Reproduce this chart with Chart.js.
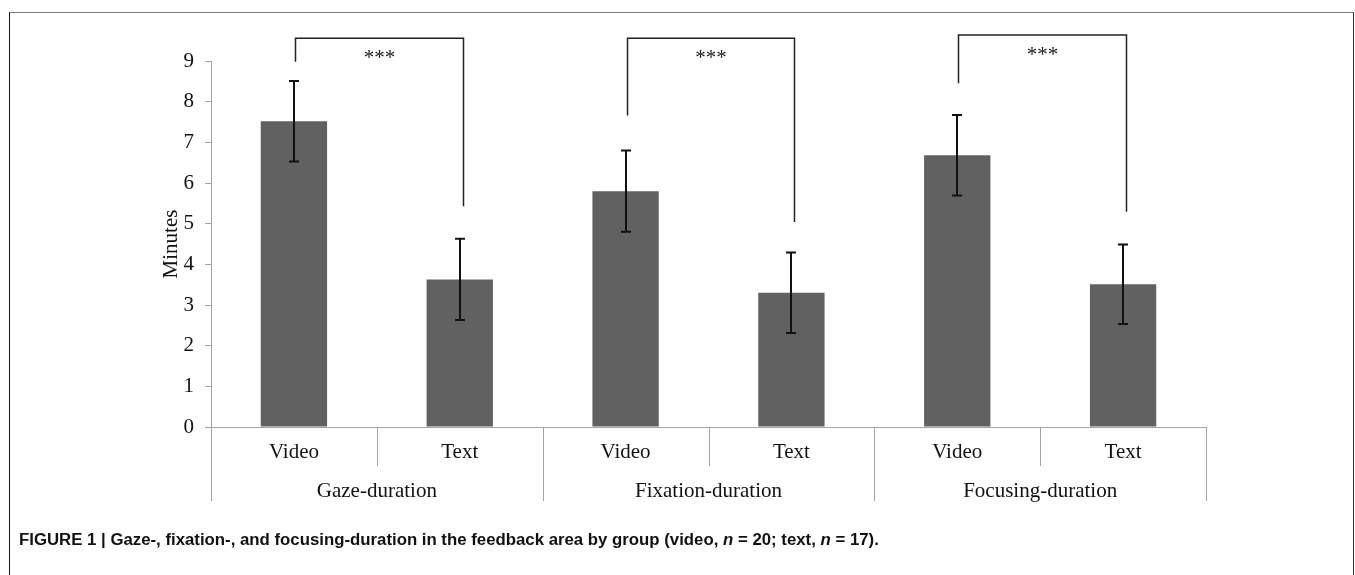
<!DOCTYPE html>
<html><head><meta charset="utf-8">
<script src="https://cdn.jsdelivr.net/npm/chart.js@4/dist/chart.umd.min.js"></script>
<style>
html,body{margin:0;padding:0;background:#fff;}
body{width:1355px;height:575px;position:relative;overflow:hidden;}
#frame{position:absolute;left:9px;top:12px;width:1345px;height:640px;border-top:1px solid #7a7a7a;border-left:1px solid #111;border-right:1px solid #333;box-sizing:border-box;}
#wrap{position:absolute;left:0;top:0;width:1355px;height:575px;}
#caption{position:absolute;left:19px;top:530px;font-family:"Liberation Sans Narrow","Arial Narrow","Liberation Sans",Arial,sans-serif;font-weight:bold;font-size:16.8px;color:#111;white-space:nowrap;}
</style></head>
<body>
<div id="frame"></div>
<div id="wrap"><canvas id="c" width="1355" height="575"></canvas></div>
<div id="caption">FIGURE 1 | Gaze-, fixation-, and focusing-duration in the feedback area by group (video, <i>n</i> = 20; text, <i>n</i> = 17).</div>
<script>
const categories = ['Video', 'Text', 'Video', 'Text', 'Video', 'Text'];
const groups = ['Gaze-duration', 'Fixation-duration', 'Focusing-duration'];
const means = [7.52, 3.63, 5.80, 3.30, 6.68, 3.51];
const errors = [0.99, 1.00, 1.00, 0.99, 0.99, 0.98];
const yTicks = [0, 1, 2, 3, 4, 5, 6, 7, 8, 9];
const bracketTop = [9.56, 9.56, 9.64];
const bracketLeftEnd = [8.98, 7.66, 8.45];
const bracketRightEnd = [5.43, 5.04, 5.29];
const sigLabels = ['***', '***', '***'];

const SERIF = '"Liberation Serif","Times New Roman",Times,serif';
const AXIS_GRAY = '#a3a3a3';

const overlay = {
  id: 'overlay',
  afterDatasetsDraw(chart) {
    const ctx = chart.ctx;
    const xs = chart.scales.x, ys = chart.scales.y;
    const base = ys.getPixelForValue(0);
    ctx.save();
    // error bars
    ctx.strokeStyle = '#111';
    ctx.lineWidth = 2;
    means.forEach((m, i) => {
      const x = Math.round(xs.getPixelForValue(i));
      const yT = ys.getPixelForValue(m + errors[i]);
      const yB = ys.getPixelForValue(m - errors[i]);
      ctx.beginPath();
      ctx.moveTo(x, yT); ctx.lineTo(x, yB);
      ctx.moveTo(x - 5, yT); ctx.lineTo(x + 5, yT);
      ctx.moveTo(x - 5, yB); ctx.lineTo(x + 5, yB);
      ctx.stroke();
    });
    // significance brackets
    ctx.strokeStyle = '#222';
    ctx.lineWidth = 1.5;
    groups.forEach((g, k) => {
      const xl = Math.round(xs.getPixelForValue(2 * k)) + 1.5;
      const xr = Math.round(xs.getPixelForValue(2 * k + 1)) + 3.5;
      const yT = ys.getPixelForValue(bracketTop[k]);
      ctx.beginPath();
      ctx.moveTo(xl, ys.getPixelForValue(bracketLeftEnd[k]));
      ctx.lineTo(xl, yT);
      ctx.lineTo(xr, yT);
      ctx.lineTo(xr, ys.getPixelForValue(bracketRightEnd[k]));
      ctx.stroke();
      ctx.fillStyle = '#222';
      ctx.font = '21px ' + SERIF;
      ctx.textAlign = 'center';
      ctx.textBaseline = 'alphabetic';
      ctx.fillText(sigLabels[k], (xl + xr) / 2, yT + 26);
    });
    // x-axis category separators (short) and group separators (long)
    ctx.strokeStyle = AXIS_GRAY;
    ctx.lineWidth = 1;
    for (let j = 0; j <= categories.length; j++) {
      const x = Math.round(xs.getPixelForValue(j - 0.5)) + 0.5;
      const len = (j % 2 === 0) ? 74 : 39;
      ctx.beginPath();
      ctx.moveTo(x, base);
      ctx.lineTo(x, base + len);
      ctx.stroke();
    }
    ctx.fillStyle = '#111';
    ctx.font = '21px ' + SERIF;
    ctx.textAlign = 'center';
    ctx.textBaseline = 'middle';
    categories.forEach((c, i) => {
      ctx.fillText(c, xs.getPixelForValue(i), base + 25);
    });
    groups.forEach((g, k) => {
      ctx.fillText(g, xs.getPixelForValue(2 * k + 0.5), base + 64);
    });
    ctx.restore();
  }
};

new Chart(document.getElementById('c'), {
  type: 'bar',
  data: {
    labels: categories,
    datasets: [{
      data: means,
      backgroundColor: '#616161',
      borderWidth: 0,
      barPercentage: 0.4,
      categoryPercentage: 1.0
    }]
  },
  options: {
    responsive: false,
    animation: false,
    layout: { padding: { left: 150, right: 149, top: 61, bottom: 108 } },
    plugins: { legend: { display: false }, tooltip: { enabled: false } },
    scales: {
      x: {
        offset: true,
        afterFit: (s) => { s.height = 40; },
        ticks: { display: false },
        grid: { display: false },
        border: { display: true, color: AXIS_GRAY, width: 1 }
      },
      y: {
        min: 0, max: 9,
        afterFit: (s) => { s.width = 61; },
        afterBuildTicks: (s) => { s.ticks = yTicks.map(v => ({ value: v })); },
        ticks: { stepSize: 1, padding: 11, color: '#111', font: { family: SERIF, size: 21 } },
        grid: { drawOnChartArea: false, drawTicks: true, tickLength: 6, color: AXIS_GRAY, lineWidth: 1 },
        border: { display: true, color: AXIS_GRAY, width: 1 },
        title: { display: true, text: 'Minutes', color: '#111', font: { family: SERIF, size: 21 }, padding: { top: 9, bottom: 0 } }
      }
    }
  },
  plugins: [overlay]
});
</script>
</body></html>
